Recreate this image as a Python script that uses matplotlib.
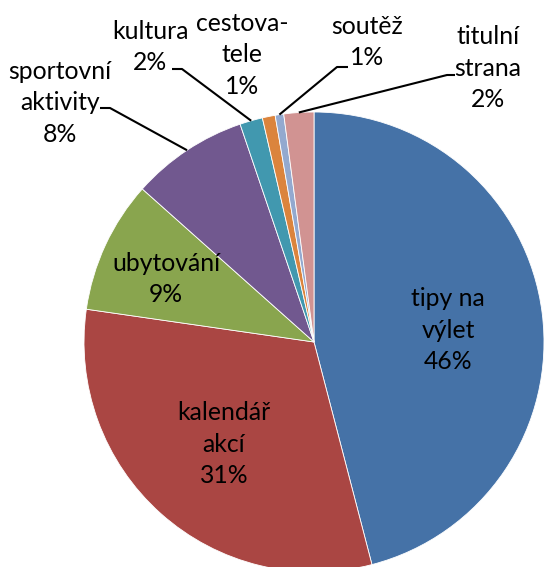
import numpy as np
import matplotlib
matplotlib.use("Agg")
import matplotlib.pyplot as plt

# ---- data ----
categories = ["tipy na\nvýlet", "kalendář\nakcí", "ubytování", "sportovní\naktivity",
              "kultura", "cestova-\ntele", "soutěž", "titulní\nstrana"]
values = [45.9, 31.3, 9.3, 8.2, 1.6, 0.9, 0.6, 2.1]
colors = ["#4572A7", "#AA4643", "#89A54E", "#71588F",
          "#4198AF", "#DB843D", "#93A9CF", "#D19392"]

W, H = 547, 567
CX, CY, R = 314, 342, 230  # pie centre / radius in pixels


def px(x, y):
    """pixel (from top-left) -> data coords of the pie axes"""
    return (x - CX) / R, (CY - y) / R


# label centres (pixels) and, for outside labels, leader start (pixels)
label_pos = [(448, 330), (224, 444), (166, 279), (60, 103),
             (150, 47), (242, 55), (367, 42), (488, 68)]
leader_start = [None, None, None, (100, 108), (172, 69), None, (348, 67), (455, 75)]
leader_elbow = [None, None, None, (110, 108), (182, 69), None, (337, 67), (447, 75)]

fig = plt.figure(figsize=(W / 100, H / 100), dpi=100)
ax = fig.add_axes([(CX - R) / W, (H - (CY + R)) / H, 2 * R / W, 2 * R / H])
ax.axis("off")

wedges, _ = ax.pie(values, colors=colors, startangle=90, counterclock=False,
                   radius=1, center=(0, 0), frame=False,
                   wedgeprops=dict(edgecolor="white", linewidth=0.6))
ax.set_xlim(-1, 1)
ax.set_ylim(-1, 1)
ax.set_aspect("equal")

total = sum(values)
font = ["Lato", "DejaVu Sans"]
for i, (w, name) in enumerate(zip(wedges, categories)):
    pct = int(round(values[i] / total * 100))
    x, y = px(*label_pos[i])
    ax.text(x, y, f"{name}\n{pct}%", ha="center", va="center", fontsize=17.8,
            family=font, color="black", linespacing=1.45, clip_on=False)
    if leader_start[i] is not None:
        mid = np.deg2rad((w.theta1 + w.theta2) / 2)
        ex, ey = np.cos(mid), np.sin(mid)
        sx, sy = px(*leader_start[i])
        bx, by = px(*leader_elbow[i])
        ax.plot([sx, bx, ex], [sy, by, ey], color="black", lw=1.5,
                solid_capstyle="butt", clip_on=False)

fig.savefig("out.png", dpi=100)
